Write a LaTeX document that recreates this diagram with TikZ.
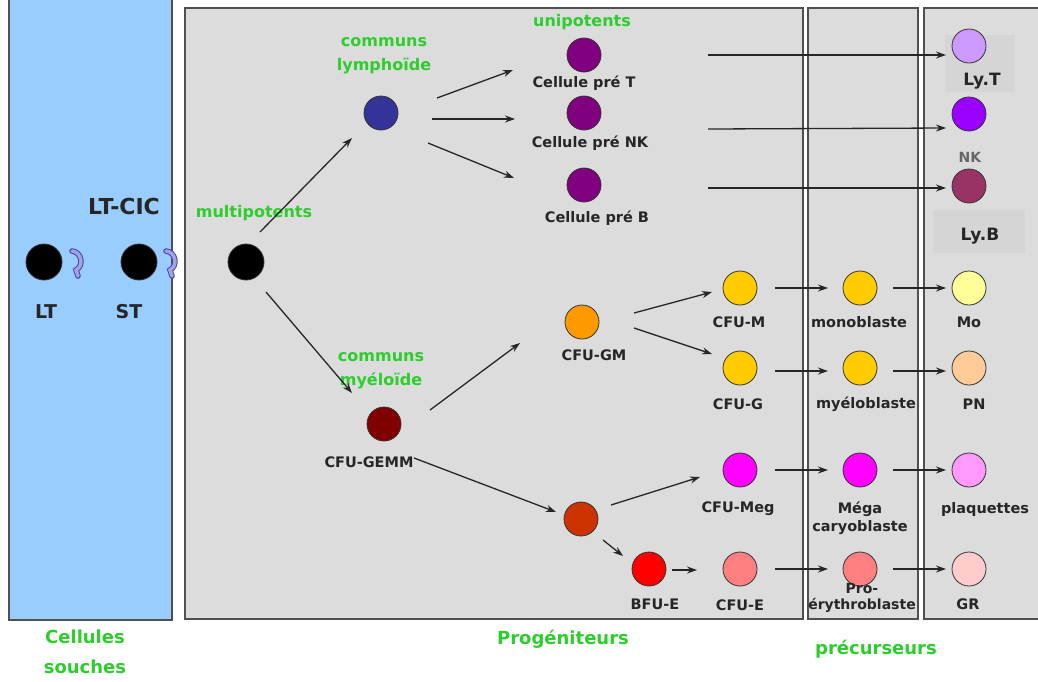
\documentclass[tikz,border=0pt]{standalone}
\usepackage{fontspec}
\setmainfont{DejaVu Sans}
\usetikzlibrary{arrows.meta}
\definecolor{grn}{RGB}{45,205,45}
\definecolor{panelgray}{RGB}{220,220,220}
\definecolor{panelblue}{RGB}{153,204,255}
\definecolor{bordergray}{RGB}{80,80,80}
\definecolor{curlin}{RGB}{165,160,235}
\definecolor{curlout}{RGB}{70,70,150}
\tikzset{
  panel/.style={draw=bordergray,line width=1.6pt},
  cell/.style={circle,draw=black!80,line width=0.8pt,minimum size=34pt,inner sep=0pt},
  stem/.style={cell,fill=black,minimum size=36pt},
  lbl/.style={font=\fontsize{14.5}{17}\selectfont\bfseries,text=black!85,align=center,inner sep=1pt},
  glbl/.style={font=\fontsize{16}{24}\selectfont\bfseries,text=grn,align=center,inner sep=1pt},
  captiontxt/.style={font=\fontsize{18}{30}\selectfont\bfseries,text=grn,align=center,inner sep=1pt},
  arr/.style={-{Stealth[length=10pt,width=7pt]},line width=1.3pt,black!85},
  curlo/.style={draw=curlout,line width=5.5pt,line cap=round},
  curli/.style={draw=curlin,line width=3.5pt,line cap=round},
}
\begin{document}
\begin{tikzpicture}[x=1pt,y=-1pt]
\useasboundingbox (0,0) rectangle (1038,681);
\fill[white] (0,0) rectangle (1038,681);
% panels
\filldraw[panel,fill=panelblue] (9,-5) rectangle (172,620);
\filldraw[panel,fill=panelgray] (185,8) rectangle (803,619);
\filldraw[panel,fill=panelgray] (808,8) rectangle (918,619);
\filldraw[panel,fill=panelgray] (924,8) rectangle (1045,619);
% label backgrounds
\fill[black!3!panelgray] (945,35) rectangle (1015,92);
\fill[black!3!panelgray] (933,210) rectangle (1025,253);
% stem cells
\node[stem] (lt) at (44,262) {};
\node[stem] (st) at (139,262) {};
\node[stem] (mp) at (246,262) {};
\node[lbl,font=\fontsize{19}{21}\selectfont\bfseries] at (46,312) {LT};
\node[lbl,font=\fontsize{19}{21}\selectfont\bfseries] at (129,312) {ST};
\node[lbl,font=\fontsize{22}{24}\selectfont\bfseries] (ltcic) at (124,206) {LT-CIC};
\draw[curlo] (72,251) .. controls (82,252) and (84,266) .. (76,270) -- (78,276);
\draw[curli] (72,251) .. controls (82,252) and (84,266) .. (76,270) -- (78,276);
\draw[curlo] (166,251) .. controls (176,252) and (178,266) .. (170,270) -- (172,276);
\draw[curli] (166,251) .. controls (176,252) and (178,266) .. (170,270) -- (172,276);
\node[glbl] at (254,213) {multipotents};
% lymphoid
\node[cell,fill={rgb,255:red,51;green,51;blue,153}] (cl) at (381,113) {};
\node[glbl] at (384,56) {communs\\lymphoïde};
\node[glbl] at (582,22) {unipotents};
\node[cell,fill={rgb,255:red,128;green,0;blue,128}] (pt) at (584,55) {};
\node[cell,fill={rgb,255:red,128;green,0;blue,128}] (pnk) at (584,113) {};
\node[cell,fill={rgb,255:red,128;green,0;blue,128}] (pb) at (584,185) {};
\node[lbl] at (584,83) {Cellule pré T};
\node[lbl] at (590,143) {Cellule pré NK};
\node[lbl] at (597,218) {Cellule pré B};
\node[cell,fill={rgb,255:red,204;green,153;blue,255}] (lyt) at (969,46) {};
\node[cell,fill={rgb,255:red,153;green,0;blue,255}] (nk) at (969,114) {};
\node[cell,fill={rgb,255:red,153;green,51;blue,102}] (lyb) at (969,186) {};
\node[lbl,font=\fontsize{17}{19}\selectfont\bfseries] at (982,81) {Ly.T};
\node[lbl,font=\fontsize{14}{16}\selectfont\bfseries,text=black!60] at (970,157) {NK};
\node[lbl,font=\fontsize{17}{19}\selectfont\bfseries] at (980,236) {Ly.B};
% myeloid
\node[cell,fill={rgb,255:red,128;green,0;blue,0}] (cm) at (384,424) {};
\node[glbl] at (381,371) {communs\\myéloïde};
\node[lbl] (gemm) at (369,462) {CFU-GEMM};
\node[cell,fill={rgb,255:red,255;green,153;blue,0}] (gm) at (582,322) {};
\node[lbl] at (594,355) {CFU-GM};
\node[cell,fill={rgb,255:red,255;green,204;blue,0}] (cfum) at (740,288) {};
\node[cell,fill={rgb,255:red,255;green,204;blue,0}] (cfug) at (740,368) {};
\node[cell,fill={rgb,255:red,255;green,204;blue,0}] (mono) at (860,288) {};
\node[cell,fill={rgb,255:red,255;green,204;blue,0}] (myelo) at (860,368) {};
\node[cell,fill={rgb,255:red,255;green,255;blue,153}] (mo) at (969,288) {};
\node[cell,fill={rgb,255:red,255;green,204;blue,153}] (pn) at (969,368) {};
\node[lbl] at (739,322) {CFU-M};
\node[lbl] at (738,404) {CFU-G};
\node[lbl] at (859,322) {monoblaste};
\node[lbl] at (866,404) {myéloblaste};
\node[lbl] at (969,322) {Mo};
\node[lbl] at (974,404) {PN};
% erythro / megak
\node[cell,fill={rgb,255:red,204;green,51;blue,0}] (em) at (581,519) {};
\node[cell,fill={rgb,255:red,255;green,0;blue,255}] (meg) at (740,470) {};
\node[cell,fill={rgb,255:red,255;green,0;blue,255}] (megab) at (860,470) {};
\node[cell,fill={rgb,255:red,255;green,153;blue,255}] (plaq) at (969,470) {};
\node[lbl] at (738,509) {CFU-Meg};
\node[lbl,font=\fontsize{14.5}{18}\selectfont\bfseries] at (860,518) {Méga\\caryoblaste};
\node[lbl] at (985,509) {plaquettes};
\node[cell,fill={rgb,255:red,255;green,0;blue,0}] (bfue) at (649,569) {};
\node[cell,fill={rgb,255:red,255;green,128;blue,128}] (cfue) at (740,569) {};
\node[cell,fill={rgb,255:red,255;green,128;blue,128}] (proe) at (860,569) {};
\node[cell,fill={rgb,255:red,255;green,204;blue,204}] (gr) at (969,569) {};
\node[lbl] at (655,604) {BFU-E};
\node[lbl] at (740,605) {CFU-E};
\node[lbl,font=\fontsize{14}{15.5}\selectfont\bfseries] at (862,598) {Pro-\\érythroblaste};
\node[lbl] at (968,604) {GR};
% bottom captions
\node[captiontxt] at (85,652) {Cellules\\souches};
\node[captiontxt] at (563,639) {Progéniteurs};
\node[captiontxt] at (876,649) {précurseurs};
% arrows
\draw[arr] ([shift={(14,-30)}]mp.center) -- ([shift={(-29,25)}]cl.center);
\draw[arr] ([shift={(20,30)}]mp.center) -- ([shift={(-32,-31)}]cm.center);
\draw[arr] ([shift={(56,-15)}]cl.center) -- ([shift={(-71,15)}]pt.center);
\draw[arr] ([shift={(51,6)}]cl.center) -- ([shift={(-69,6)}]pnk.center);
\draw[arr] ([shift={(47,30)}]cl.center) -- ([shift={(-70,-7)}]pb.center);
\draw[arr] ([shift={(124,0)}]pt.center) -- ([shift={(-23,9)}]lyt.center);
\draw[arr] ([shift={(124,16)}]pnk.center) -- ([shift={(-23,14)}]nk.center);
\draw[arr] ([shift={(124,3)}]pb.center) -- ([shift={(-23,2)}]lyb.center);
\draw[arr] ([shift={(46,-14)}]cm.center) -- ([shift={(-62,21)}]gm.center);
\draw[arr] ([shift={(30,34)}]cm.center) -- ([shift={(-25,-7)}]em.center);
\draw[arr] ([shift={(52,-9)}]gm.center) -- ([shift={(-28,4)}]cfum.center);
\draw[arr] ([shift={(52,6)}]gm.center) -- ([shift={(-28,-14)}]cfug.center);
\draw[arr] ([shift={(35,0)}]cfum.center) -- ([shift={(-32,0)}]mono.center);
\draw[arr] ([shift={(33,0)}]mono.center) -- ([shift={(-23,0)}]mo.center);
\draw[arr] ([shift={(35,3)}]cfug.center) -- ([shift={(-32,3)}]myelo.center);
\draw[arr] ([shift={(33,3)}]myelo.center) -- ([shift={(-23,3)}]pn.center);
\draw[arr] ([shift={(30,-14)}]em.center) -- ([shift={(-40,7)}]meg.center);
\draw[arr] ([shift={(22,21)}]em.center) -- ([shift={(-26,-13)}]bfue.center);
\draw[arr] ([shift={(23,1)}]bfue.center) -- ([shift={(-43,1)}]cfue.center);
\draw[arr] ([shift={(35,0)}]meg.center) -- ([shift={(-32,0)}]megab.center);
\draw[arr] ([shift={(33,0)}]megab.center) -- ([shift={(-23,0)}]plaq.center);
\draw[arr] ([shift={(35,0)}]cfue.center) -- ([shift={(-32,0)}]proe.center);
\draw[arr] ([shift={(33,0)}]proe.center) -- ([shift={(-23,0)}]gr.center);
\end{tikzpicture}
\end{document}
